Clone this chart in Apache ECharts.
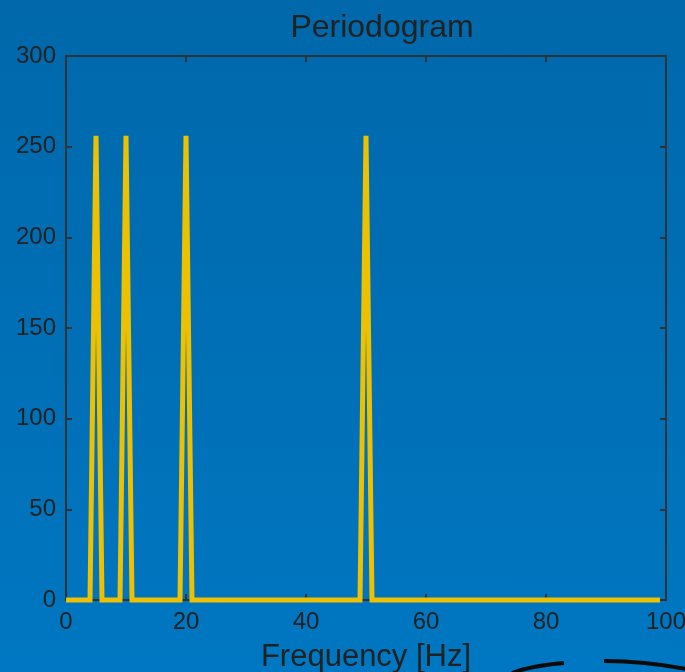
<!DOCTYPE html>
<html>
<head>
<meta charset="utf-8">
<script src="https://cdn.jsdelivr.net/npm/echarts@6/dist/echarts.min.js"></script>
<style>
  html, body { margin: 0; padding: 0; }
  body { width: 685px; height: 672px; background: linear-gradient(to bottom, #0068ab 0%, #006fb5 50%, #0077c2 100%); overflow: hidden; }
  #chart { width: 685px; height: 672px; }
</style>
</head>
<body>
<div id="chart"></div>
<script>
// Periodogram samples, 1 Hz resolution from 0 to 99 Hz
const frequencies = Array.from({ length: 100 }, (_, i) => i);
const peakFrequencies = [5, 10, 20, 50];
const peakPower = [256, 256, 256, 256];
const power = frequencies.map(f => {
  const k = peakFrequencies.indexOf(f);
  return k >= 0 ? peakPower[k] : 0;
});
const xTicks = [0, 20, 40, 60, 80, 100];
const yTicks = [0, 50, 100, 150, 200, 250, 300];

const chart = echarts.init(document.getElementById('chart'), null, { renderer: 'canvas' });

const textColor = '#222222';
const axisColor = '#2e3338';
const font = '"Liberation Sans", Arial, sans-serif';

const baseAxis = {
  axisLine: { show: true, onZero: false, lineStyle: { color: axisColor, width: 2 } },
  axisTick: { show: true, inside: true, length: 6, lineStyle: { color: axisColor, width: 2 } },
  splitLine: { show: false }
};

chart.setOption({
  backgroundColor: 'transparent',
  animation: false,
  title: {
    text: 'Periodogram',
    left: 377, top: 7, textAlign: 'center',
    textStyle: { color: textColor, fontFamily: font, fontSize: 32, fontWeight: 'normal' }
  },
  grid: { left: 66, right: 19, top: 56, bottom: 72, containLabel: false, outerBoundsMode: 'none' },
  xAxis: [
    Object.assign({}, baseAxis, {
      type: 'value', min: xTicks[0], max: xTicks[xTicks.length - 1], interval: 20,
      position: 'bottom',
      name: 'Frequency [Hz]', nameLocation: 'middle', nameGap: 42,
      nameTextStyle: { color: textColor, fontFamily: font, fontSize: 31 },
      axisLabel: { color: textColor, fontFamily: font, fontSize: 24, margin: 10 }
    }),
    Object.assign({}, baseAxis, {
      type: 'value', min: xTicks[0], max: xTicks[xTicks.length - 1], interval: 20,
      position: 'top', axisLabel: { show: false }
    })
  ],
  yAxis: [
    Object.assign({}, baseAxis, {
      type: 'value', min: yTicks[0], max: yTicks[yTicks.length - 1], interval: 50,
      position: 'left',
      axisLabel: { color: textColor, fontFamily: font, fontSize: 24, margin: 10 }
    }),
    Object.assign({}, baseAxis, {
      type: 'value', min: yTicks[0], max: yTicks[yTicks.length - 1], interval: 50,
      position: 'right', axisLabel: { show: false }
    })
  ],
  series: [{
    type: 'line',
    xAxisIndex: 0, yAxisIndex: 0,
    data: frequencies.map((f, i) => [f, power[i]]),
    showSymbol: false,
    lineStyle: { color: '#edc000', width: 5, join: 'miter', cap: 'butt' },
    clip: false
  }],
  graphic: [
    // pen strokes along the bottom edge
    {
      type: 'bezierCurve',
      shape: { x1: 512, y1: 673, x2: 564, y2: 663, cpx1: 530, cpy1: 666 },
      style: { stroke: '#0a0a0a', lineWidth: 4, fill: null }
    },
    {
      type: 'bezierCurve',
      shape: { x1: 604, y1: 661, x2: 686, y2: 669, cpx1: 645, cpy1: 661 },
      style: { stroke: '#0a0a0a', lineWidth: 4, fill: null }
    }
  ]
});
</script>
</body>
</html>
